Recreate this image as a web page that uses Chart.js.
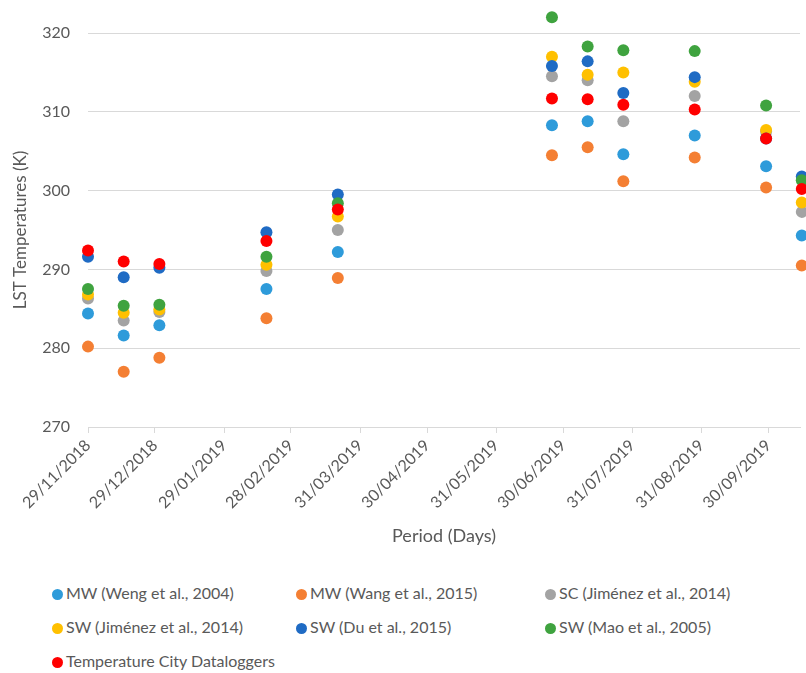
<!DOCTYPE html>
<html>
<head>
<meta charset="utf-8">
<script src="https://cdn.jsdelivr.net/npm/chart.js@4/dist/chart.umd.min.js"></script>
<style>
  html, body { margin: 0; padding: 0; background: #ffffff; overflow: hidden; }
  #wrap { position: relative; width: 806px; height: 673px; }
  #chartBox { position: absolute; left: 0; top: 0; width: 806px; height: 557px; }
  #legend { position: absolute; left: 0; top: 580px; width: 806px; font-family: Lato, "Open Sans", sans-serif; font-size: 16px; color: #595959; }
  .item { position: absolute; white-space: nowrap; line-height: 20px; }
  .dot { display: inline-block; width: 11px; height: 11px; border-radius: 50%; margin-right: 3px; vertical-align: -1px; }
</style>
</head>
<body>
<div id="wrap">
  <div id="chartBox"><canvas id="c" width="806" height="557"></canvas></div>
  <div id="legend"></div>
</div>
<script>
// ---- data ----
const obsDates = ['29/11/2018','15/12/2018','31/12/2018','17/02/2019','21/03/2019','25/06/2019','11/07/2019','27/07/2019','28/08/2019','29/09/2019','15/10/2019'];
const xTickLabels = ['29/11/2018','29/12/2018','29/01/2019','28/02/2019','31/03/2019','30/04/2019','31/05/2019','30/06/2019','31/07/2019','31/08/2019','30/09/2019'];
const yTicks = [270, 280, 290, 300, 310, 320];

const seriesNames = ['MW (Weng et al., 2004)','MW (Wang et al., 2015)','SC (Jiménez et al., 2014)','SW (Jiménez et al., 2014)','SW (Du et al., 2015)','SW (Mao et al., 2005)','Temperature City Dataloggers'];
const seriesColors = ['#2E9BDA','#F47F33','#A3A3A3','#FFC000','#1F6BC4','#3FA33F','#FF0000'];

const mwWeng    = [284.4, 281.6, 282.9, 287.5, 292.2, 308.3, 308.8, 304.6, 307.0, 303.1, 294.3];
const mwWang    = [280.2, 277.0, 278.8, 283.8, 288.9, 304.5, 305.5, 301.2, 304.2, 300.4, 290.5];
const scJimenez = [286.3, 283.5, 284.6, 289.8, 295.0, 314.5, 314.0, 308.8, 312.0, 307.5, 297.3];
const swJimenez = [286.8, 284.5, 284.9, 290.6, 296.7, 317.0, 314.7, 315.0, 313.8, 307.7, 298.5];
const swDu      = [291.6, 289.0, 290.2, 294.7, 299.5, 315.8, 316.4, 312.4, 314.4, 306.6, 301.8];
const swMao     = [287.5, 285.4, 285.5, 291.6, 298.4, 322.0, 318.3, 317.8, 317.7, 310.8, 301.3];
const cityLoggers = [292.4, 291.0, 290.7, 293.6, 297.6, 311.7, 311.6, 310.9, 310.3, 306.6, 300.2];

const seriesValues = [mwWeng, mwWang, scJimenez, swJimenez, swDu, swMao, cityLoggers];

// ---- helpers ----
function dayIndex(s) {
  const [d, m, y] = s.split('/').map(Number);
  return Date.UTC(y, m - 1, d) / 86400000;
}
const day0 = dayIndex(xTickLabels[0]);
const obsDays = obsDates.map(s => dayIndex(s) - day0);
const xTickDays = xTickLabels.map(s => dayIndex(s) - day0);

const datasets = seriesValues.map((vals, i) => ({
  label: seriesNames[i],
  data: vals.map((v, j) => ({ x: obsDays[j], y: v })),
  backgroundColor: seriesColors[i],
  borderColor: seriesColors[i],
  borderWidth: 0,
  pointRadius: 6,
  pointHoverRadius: 6,
  showLine: false,
  clip: false,
  order: seriesValues.length - i
}));

const FONT = 'Lato, "Open Sans", sans-serif';
const TXT = '#595959';
const GRID = '#D9D9D9';

// lets points that lie above the top gridline (beyond 320 K) still be drawn, as in the original
const overflowPoints = {
  id: 'overflowPoints',
  beforeDatasetsDraw(chart) {
    this._saved = { top: chart.chartArea.top, right: chart.chartArea.right };
    chart.chartArea.top = 0;
    chart.chartArea.right = chart.width + 10;
  },
  afterDatasetsDraw(chart) {
    if (this._saved) {
      chart.chartArea.top = this._saved.top;
      chart.chartArea.right = this._saved.right;
    }
  }
};

new Chart(document.getElementById('c'), {
  type: 'scatter',
  data: { datasets },
  plugins: [overflowPoints],
  options: {
    responsive: false,
    animation: false,
    layout: { padding: { top: 33, left: 0, right: 0, bottom: 0 } },
    plugins: { legend: { display: false }, tooltip: { enabled: false } },
    scales: {
      x: {
        type: 'linear',
        min: 0,
        max: 319.2,
        afterBuildTicks: s => { s.ticks = xTickDays.map(v => ({ value: v })); },
        afterFit: s => { s.height = 130; },
        ticks: {
          autoSkip: false,
          minRotation: 45,
          maxRotation: 45,
          padding: 3,
          color: TXT,
          font: { family: FONT, size: 16 },
          callback: (v) => { const k = xTickDays.indexOf(v); return k >= 0 ? xTickLabels[k] : ''; }
        },
        grid: { drawOnChartArea: false, drawTicks: true, tickLength: 6, color: GRID },
        border: { display: true, color: GRID },
        title: { display: true, text: 'Period (Days)', color: TXT, font: { family: FONT, size: 18 }, padding: { top: 0, bottom: 10 } }
      },
      y: {
        type: 'linear',
        min: 270,
        max: 320,
        afterBuildTicks: s => { s.ticks = yTicks.map(v => ({ value: v })); },
        afterFit: s => { s.width = 88; },
        ticks: { color: TXT, font: { family: FONT, size: 16 }, padding: 18 },
        grid: { color: GRID, lineWidth: 1, drawTicks: false },
        border: { display: false },
        title: { display: true, text: 'LST Temperatures (K)', color: TXT, font: { family: FONT, size: 17 }, padding: { top: 10, bottom: 0 } }
      }
    }
  }
});

// ---- legend (HTML) ----
const legendPos = [[52, 3], [296, 3], [545, 3], [52, 37], [296, 37], [545, 37], [52, 71]];
const lg = document.getElementById('legend');
seriesNames.forEach((name, i) => {
  const el = document.createElement('div');
  el.className = 'item';
  el.style.left = legendPos[i][0] + 'px';
  el.style.top = legendPos[i][1] + 'px';
  const dot = document.createElement('span');
  dot.className = 'dot';
  dot.style.background = seriesColors[i];
  el.appendChild(dot);
  el.appendChild(document.createTextNode(name));
  lg.appendChild(el);
});
</script>
</body>
</html>
